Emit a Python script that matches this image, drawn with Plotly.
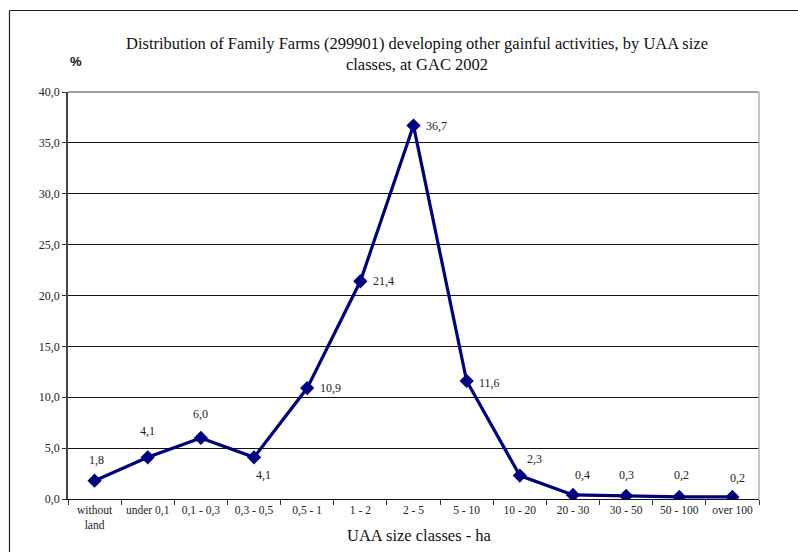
import plotly.graph_objects as go

categories = ["without<br>land", "under 0,1", "0,1 - 0,3", "0,3 - 0,5", "0,5 - 1", "1 - 2",
              "2 - 5", "5 - 10", "10 - 20", "20 - 30", "30 - 50", "50 - 100", "over 100"]
shares = [1.8, 4.1, 6.0, 4.1, 10.9, 21.4, 36.7, 11.6, 2.3, 0.4, 0.3, 0.2, 0.2]
# pixel offsets of each value label relative to its point
label_dx = [2, 0, 0, 9, 23, 23, 23, 23, 15, 10, 0, 2, 5]
label_dy = [21, 26, 24, -18, 0, 0, 0, -2, 17, 20, 21, 22, 19]

W, H = 798, 552
ML, MR, MT, MB = 68, 39, 92, 53
PW, PH = W - ML - MR, H - MT - MB

serif = "Liberation Serif, Times New Roman, serif"
navy = "#000080"

fig = go.Figure()
fig.add_trace(go.Scatter(
    x=categories, y=shares, mode="lines+markers",
    line=dict(color=navy, width=3.2),
    marker=dict(symbol="diamond", size=11, color=navy),
    hoverinfo="skip", showlegend=False,
))

annotations = []
for c, v, dx, dy in zip(categories, shares, label_dx, label_dy):
    annotations.append(dict(
        x=c, y=v, xref="x", yref="y", text=f"{v:.1f}".replace(".", ","),
        showarrow=False, xshift=dx, yshift=dy,
        font=dict(family=serif, size=12, color="#222"),
    ))

annotations.append(dict(
    x=(417 - ML) / PW, y=1 + (MT - 53.5) / PH, xref="paper", yref="paper",
    text="Distribution of Family Farms (299901) developing other gainful activities, by UAA size<br>classes, at GAC 2002",
    showarrow=False, xanchor="center", yanchor="middle",
    font=dict(family=serif, size=16.5, color="#111"),
))
annotations.append(dict(
    x=(76 - ML) / PW, y=1 + (MT - 62) / PH, xref="paper", yref="paper",
    text="<b>%</b>", showarrow=False, xanchor="center", yanchor="middle",
    font=dict(family="Liberation Sans, Arial, sans-serif", size=13, color="#111"),
))
annotations.append(dict(
    x=(419 - ML) / PW, y=-(535 - (H - MB)) / PH, xref="paper", yref="paper",
    text="UAA size classes - ha", showarrow=False, xanchor="center", yanchor="middle",
    font=dict(family=serif, size=16.5, color="#111"),
))

frame_left = (9.5 - ML) / PW
frame_right = (W - ML) / PW
frame_top = 1 + (MT - 10.5) / PH
frame_bottom = -(H - (H - MB)) / PH

shapes = [
    # outer chart frame (left and top edges)
    dict(type="line", xref="paper", yref="paper",
         x0=frame_left, x1=frame_right, y0=frame_top, y1=frame_top,
         line=dict(color="#222", width=1.2), layer="below"),
    dict(type="line", xref="paper", yref="paper",
         x0=frame_left, x1=frame_left, y0=frame_bottom, y1=frame_top,
         line=dict(color="#222", width=1.2), layer="below"),
    # plot area border: top and right
    dict(type="line", xref="paper", yref="paper", x0=0, x1=1, y0=1, y1=1,
         line=dict(color="#808080", width=1.5)),
    dict(type="line", xref="paper", yref="paper", x0=1, x1=1, y0=0, y1=1,
         line=dict(color="#b0b0b0", width=1.5)),
]

fig.update_layout(
    width=W, height=H,
    margin=dict(l=ML, r=MR, t=MT, b=MB, autoexpand=False),
    paper_bgcolor="white", plot_bgcolor="white",
    separators=", ",
    annotations=annotations, shapes=shapes,
    xaxis=dict(
        type="category", range=[-0.5, len(categories) - 0.5],
        showgrid=False, tickson="boundaries",
        ticks="outside", ticklen=5, tickcolor="#333",
        showline=True, linecolor="#111", linewidth=1.2,
        tickfont=dict(family=serif, size=11.5, color="#222"),
        fixedrange=True,
    ),
    yaxis=dict(
        range=[0, 40], dtick=5, tickformat=".1f",
        showgrid=True, gridcolor="#111", gridwidth=1,
        ticks="outside", ticklen=4, tickcolor="#333",
        showline=True, linecolor="#444", linewidth=1.5,
        zeroline=False,
        tickfont=dict(family=serif, size=12, color="#222"),
        fixedrange=True,
    ),
)

fig.write_html("out.html")
